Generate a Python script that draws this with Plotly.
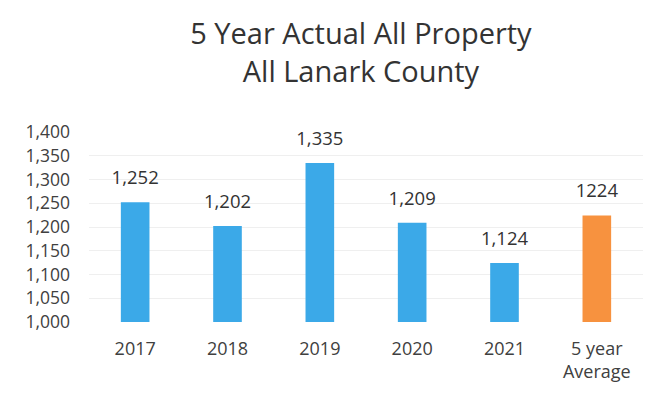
import plotly.graph_objects as go

categories = ["2017", "2018", "2019", "2020", "2021", "5 year<br>Average"]
values = [1252, 1202, 1335, 1209, 1124, 1224]
labels = ["1,252", "1,202", "1,335", "1,209", "1,124", "1224"]
colors = ["#3BA9E8", "#3BA9E8", "#3BA9E8", "#3BA9E8", "#3BA9E8", "#F7923F"]
y_ticks = [1000, 1050, 1100, 1150, 1200, 1250, 1300, 1350, 1400]

fig = go.Figure()
fig.add_trace(go.Bar(
    x=categories, y=values, marker=dict(color=colors, line=dict(width=0)),
    hoverinfo="skip",
))
fig.add_trace(go.Scatter(
    x=categories, y=values, mode="markers+text", text=labels,
    textposition="top center", cliponaxis=False,
    marker=dict(size=20, color="rgba(0,0,0,0)"),
    textfont=dict(family="Open Sans, sans-serif", size=18.5, color="#333333"),
))

fig.update_layout(
    width=650, height=392,
    margin=dict(l=81, r=15, t=124, b=78),
    paper_bgcolor="white", plot_bgcolor="white",
    bargap=0.69,
    showlegend=False,
    font=dict(family="Open Sans, Noto Sans, sans-serif", color="#404040"),
    title=dict(text="5 Year Actual All Property<br>All Lanark County",
               x=0.543, xanchor="center", y=0.908, yanchor="top",
               font=dict(size=29, color="#333333", family="Open Sans, sans-serif")),
)
fig.update_xaxes(showgrid=False, showline=False, ticks="", automargin=False,
                 ticklabelstandoff=14,
                 tickfont=dict(size=18, color="#404040"))
fig.update_yaxes(range=[1000, 1400], tickvals=y_ticks,
                 ticktext=[f"{v:,}" for v in y_ticks],
                 showgrid=True, gridcolor="#EFEFEF", gridwidth=1,
                 zeroline=False, showline=False, ticks="", automargin=False,
                 ticklabelstandoff=18,
                 tickfont=dict(size=17.5, color="#404040"))

fig.write_html("out.html")
